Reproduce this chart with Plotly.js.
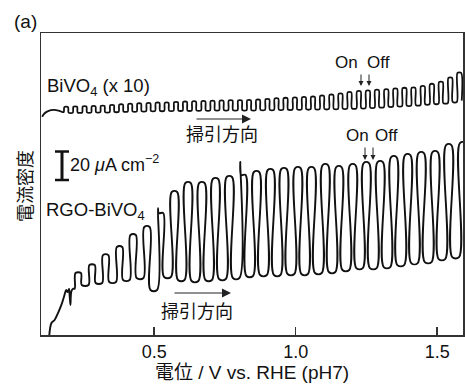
<!DOCTYPE html>
<html><head><meta charset="utf-8">
<script src="https://cdn.plot.ly/plotly-3.0.1.min.js"></script>
<style>html,body{margin:0;padding:0;background:#fff;overflow:hidden}#chart{width:465px;height:385px}</style>
</head><body><div id="chart"></div>
<script>
// ---------- DATA ----------
// x: potential / V vs. RHE ; y: current density / uA cm-2 (arbitrary offset, BiVO4 shown x10)

// RGO-BiVO4: initial rise before chopping becomes regular
const rgoPreV = [0.129, 0.137, 0.148, 0.160, 0.172, 0.183, 0.189, 0.194, 0.199, 0.201, 0.204, 0.207, 0.213];
const rgoPreJ = [-1.0, 8.4, 10.5, 15.4, 21.1, 28.1, 31.6, 30.2, 32.3, 28.1, 21.1, 30.4, 32.5];
// centre potential of each light-on period
const rgoLightV = [0.230, 0.279, 0.327, 0.376, 0.424, 0.473, 0.521, 0.570, 0.618, 0.667, 0.715, 0.764, 0.812, 0.860, 0.909,
                   0.957, 1.006, 1.054, 1.103, 1.151, 1.200, 1.248, 1.297, 1.345, 1.394, 1.442, 1.491, 1.539, 1.588];
// photocurrent (light on) and dark current (light off) of each cycle
const rgoLightJ = [43.5, 49.1, 56.1, 61.8, 70.2, 75.8, 85.6, 100.4, 106.7, 106.7, 109.5, 110.9, 112.3, 114.4, 115.8,
                   116.5, 117.2, 117.2, 119.3, 117.9, 119.3, 120.7, 121.4, 124.9, 126.3, 127.7, 128.4, 133.3, 134.7];
const rgoDarkJ  = [35.1, 36.5, 37.2, 38.6, 40.0, 31.6, 40.7, 38.6, 37.9, 38.6, 39.3, 40.0, 41.4, 42.1, 42.1,
                   42.8, 42.8, 43.5, 44.2, 45.6, 47.0, 47.0, 47.7, 49.1, 50.5, 51.2, 53.3, 54.7, 55.5];
// transient spikes at light-on (cycle index, current)
const rgoSpikeCycle = [6, 12];
const rgoSpikeJ = [89.0, 121.4];
const rgoHalfLight = 0.011;   // half width of one light period / V

// BiVO4 (x 10)
const bvoPreV = [0.104, 0.112, 0.125, 0.145, 0.165, 0.176];
const bvoPreJ = [153.2, 155.5, 157.2, 158.0, 157.3, 156.5];
const bvoLightV = [0.188, 0.220, 0.253, 0.285, 0.317, 0.350, 0.382, 0.414, 0.446, 0.479, 0.511, 0.543, 0.576, 0.608, 0.640,
                   0.673, 0.705, 0.737, 0.769, 0.802, 0.834, 0.866, 0.899, 0.931, 0.963, 0.996, 1.028, 1.060, 1.092, 1.125,
                   1.157, 1.189, 1.222, 1.254, 1.286, 1.319, 1.351, 1.383, 1.415, 1.448, 1.480, 1.512, 1.545, 1.577];
const bvoLightJ = [160.0, 160.2, 160.4, 160.5, 160.8, 161.3, 161.7, 162.1, 162.4, 162.6, 162.9, 163.0, 163.4, 163.6, 163.8,
                   164.0, 164.2, 164.4, 164.6, 164.6, 164.7, 165.0, 165.5, 165.9, 166.2, 166.5, 166.8, 167.1, 167.8, 168.5,
                   169.3, 170.3, 171.0, 171.4, 171.9, 172.3, 172.8, 173.2, 173.5, 174.5, 176.0, 177.5, 180.5, 184.0];
const bvoDarkJ  = [156.1, 156.2, 156.3, 156.4, 156.5, 156.7, 156.9, 157.0, 157.2, 157.3, 157.4, 157.5, 157.6, 157.6, 157.7,
                   157.7, 157.8, 157.8, 157.9, 157.9, 157.9, 158.0, 158.1, 158.2, 158.3, 158.4, 158.5, 158.6, 158.7, 158.8,
                   158.9, 159.1, 159.3, 159.6, 160.0, 160.4, 160.7, 161.0, 161.4, 162.0, 162.4, 162.8, 163.6, 164.5];
const bvoHalfLight = 0.0075;

const xTicks = [0.5, 1.0, 1.5];
const xTickText = ['0.5', '1.0', '1.5'];
const scaleBarJ = 20;        // uA cm-2
const scaleBarBase = 108.8;  // position of the bar's lower end on the current axis

// ---------- build chopped-light curves ----------
function chopped(preV, preJ, lightV, half, lightJ, darkJ, spikeCyc, spikeJ, edge) {
  const xs = preV.slice(), ys = preJ.slice();
  let prevDark = preJ[preJ.length - 1];
  for (let i = 0; i < lightV.length; i++) {
    const on = lightV[i] - half, off = lightV[i] + half;
    xs.push(on); ys.push(prevDark);
    const k = spikeCyc.indexOf(i);
    if (k >= 0) { xs.push(on + edge); ys.push(spikeJ[k]); xs.push(on + 2 * edge); ys.push(lightJ[i]); }
    else { xs.push(on + edge); ys.push(lightJ[i]); }
    xs.push(off); ys.push(lightJ[i]);
    xs.push(off + edge); ys.push(darkJ[i]);
    prevDark = darkJ[i];
  }
  return {xs, ys};
}
const rgo = chopped(rgoPreV, rgoPreJ, rgoLightV, rgoHalfLight, rgoLightJ, rgoDarkJ, rgoSpikeCycle, rgoSpikeJ, 0.003);
const bvo = chopped(bvoPreV, bvoPreJ, bvoLightV, bvoHalfLight, bvoLightJ, bvoDarkJ, [], [], 0.002);

const traces = [
  {x: bvo.xs, y: bvo.ys, mode: 'lines', line: {color: '#111', width: 1.8, shape: 'spline', smoothing: 0.8}, hoverinfo: 'skip'},
  {x: rgo.xs, y: rgo.ys, mode: 'lines', line: {color: '#111', width: 1.9, shape: 'spline', smoothing: 1.0}, hoverinfo: 'skip'}
];

// ---------- layout ----------
const L = 41, R = 463, T = 33, B = 335;
const px = v => (v - L) / (R - L);
const py = v => (B - v) / (B - T);
const FONT = 'Liberation Sans, Arial, Helvetica, sans-serif';
const JFONT = 'Noto Sans CJK JP, Liberation Sans, sans-serif';
const MIXFONT = 'Liberation Sans, Noto Sans CJK JP, sans-serif';

function txt(text, x, y, anchor, size, family) {
  return {text, x: px(x), y: py(y), xref: 'paper', yref: 'paper', showarrow: false,
          xanchor: anchor, yanchor: 'middle', font: {size: size || 18, family: family || FONT, color: '#111'}};
}
function arrow(x, y, ax, ay, w, size) {
  return {text: '', x: px(x), y: py(y), xref: 'paper', yref: 'paper', showarrow: true,
          ax: ax, ay: ay, arrowhead: 2, arrowsize: size, arrowwidth: w, arrowcolor: '#222'};
}

const annotations = [
  txt('(a)', 12, 22, 'left', 19),
  txt('電流密度', 24, 186, 'center', 18, JFONT),
  txt('BiVO<sub>4</sub> (x 10)', 45, 87, 'left', 18.5),
  txt('RGO-BiVO<sub>4</sub>', 44, 211, 'left', 18.5),
  txt('20 <i>μ</i>A cm<sup>−2</sup>', 68, 163, 'left', 18),
  txt('On', 346, 62, 'center', 17),
  txt('Off', 378, 62, 'center', 17),
  txt('On', 357, 135, 'center', 17),
  txt('Off', 386, 135, 'center', 17),
  txt('掃引方向', 222, 133, 'center', 18, JFONT),
  txt('掃引方向', 197, 310, 'center', 18, JFONT),
  arrow(361, 86, 0, -13, 1, 1),
  arrow(369, 86, 0, -13, 1, 1),
  arrow(365, 160, 0, -14, 1, 1),
  arrow(373, 160, 0, -14, 1, 1),
  arrow(251, 119, -56, 0, 1.2, 1.5),
  arrow(231, 293, -58, 0, 1.2, 1.5)
];
annotations[1].textangle = -90;

const shapes = [
  {type: 'line', xref: 'paper', yref: 'y', x0: px(62), x1: px(62), y0: scaleBarBase, y1: scaleBarBase + scaleBarJ, line: {color: '#111', width: 3}},
  {type: 'line', xref: 'paper', yref: 'y', x0: px(55), x1: px(69), y0: scaleBarBase, y1: scaleBarBase, line: {color: '#111', width: 2.5}},
  {type: 'line', xref: 'paper', yref: 'y', x0: px(55), x1: px(69), y0: scaleBarBase + scaleBarJ, y1: scaleBarBase + scaleBarJ, line: {color: '#111', width: 2.5}}
];

const layout = {
  width: 465, height: 385,
  margin: {l: L, r: 465 - R, t: T, b: 385 - B, pad: 0},
  paper_bgcolor: '#fff', plot_bgcolor: '#fff',
  showlegend: false,
  font: {family: FONT, size: 18, color: '#111'},
  xaxis: {
    range: [0.1, 1.591], tickvals: xTicks, ticktext: xTickText,
    ticks: 'inside', ticklen: 8, tickwidth: 1.5, tickcolor: '#333',
    showline: true, mirror: true, linecolor: '#333', linewidth: 1.5,
    showgrid: false, zeroline: false, tickfont: {size: 18, family: FONT},
    title: {text: '電位 / V vs. RHE (pH7)', font: {size: 19, family: MIXFONT}, standoff: 1}
  },
  yaxis: {
    range: [0, 212], showticklabels: false, ticks: '',
    showline: true, mirror: true, linecolor: '#333', linewidth: 1.5,
    showgrid: false, zeroline: false
  },
  annotations, shapes
};

Plotly.newPlot('chart', traces, layout, {staticPlot: true, displayModeBar: false});
</script></body></html>
